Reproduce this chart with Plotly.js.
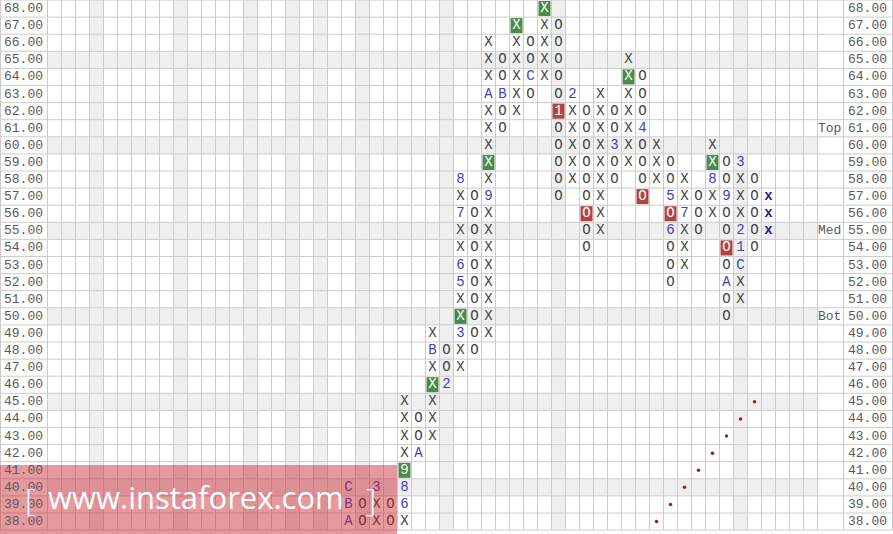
<!DOCTYPE html>
<html><head><meta charset="utf-8">
<script src="https://cdn.plot.ly/plotly-3.0.1.min.js"></script>
<style>html,body{margin:0;padding:0;background:#fff;}#chart{width:893px;height:534px;}</style>
</head><body><div id="chart"></div>
<script>
// ---- data ----
const prices = [38,39,40,41,42,43,44,45,46,47,48,49,50,51,52,53,54,55,56,57,58,59,60,61,62,63,64,65,66,67,68];
const priceLabels = ['38.00','39.00','40.00','41.00','42.00','43.00','44.00','45.00','46.00','47.00','48.00','49.00','50.00','51.00','52.00','53.00','54.00','55.00','56.00','57.00','58.00','59.00','60.00','61.00','62.00','63.00','64.00','65.00','66.00','67.00','68.00'];
// P&F columns
const colIndex = [21,22,23,24,25,26,27,28,29,30,31,32,33,34,35,36,37,38,39,40,41,42,43,44,45,46,47,48,49,50,51];
const colType  = ['X','O','X','O','X','O','X','O','X','O','X','O','X','O','X','O','X','O','X','O','X','O','X','O','X','O','X','O','X','O','x'];
const colLow   = [38,38,38,38,38,42,43,46,47,48,49,61,62,63,64,57,58,54,55,58,59,57,58,52,53,55,56,50,51,54,55];
const colHigh  = [40,39,40,39,45,44,49,48,58,57,66,65,67,66,68,67,63,62,63,62,65,64,60,59,58,57,60,59,59,58,57];
// month markers
const markCol   = [21,21,21,23,25,25,25,26,27,28,29,29,29,29,29,31,31,32,34,36,37,40,42,44,44,45,47,48,48,49,49,49,49];
const markPrice = [38,39,40,40,39,40,41,42,48,46,49,52,53,56,58,57,63,63,64,62,63,60,61,57,55,56,58,57,52,53,54,55,59];
const markLabel = ['A','B','C','3','6','8','9','A','B','2','3','5','6','7','8','9','A','B','C','1','2','3','4','5','6','7','8','9','A','C','1','2','3'];
// signal boxes
const buyCol   = [25,27,29,31,33,35,41,47];
const buyPrice = [41,46,50,59,67,68,64,59];
const sellCol   = [36,38,42,44,48];
const sellPrice = [62,56,57,56,54];
// trend line dots
const trendCol   = [43,44,45,46,47,48,49,50];
const trendPrice = [38,39,40,41,42,43,44,45];
// levels
const levelName  = ['Top','Med','Bot'];
const levelPrice = [61,55,50];
// shaded columns / rows
const grayCols = [3,9,14,17,19,22,28,36,49];
const grayRows = [40,45,50,55,60,65];

// ---- geometry helpers (px -> axis units) ----
const W = 893, H = 534, CW = 14, RH = 17.1, GX = 47.5;
const xu = px => (px - GX) / CW - 0.5;
const yu = py => 68.5 - py / RH;
const NCOL = 55;

// build cells
const isKey = (c,p,cs,ps) => cs.some((cc,i)=>cc===c && ps[i]===p);
const plain = {x:[],y:[],t:[]}, month = {x:[],y:[],t:[]}, sig = {x:[],y:[],t:[]}, bold = {x:[],y:[],t:[]};
colIndex.forEach((c,i)=>{
  for (let p = colLow[i]; p <= colHigh[i]; p++) {
    let t = colType[i];
    const mi = markCol.findIndex((mc,k)=>mc===c && markPrice[k]===p);
    if (mi >= 0) t = markLabel[mi];
    if (isKey(c,p,buyCol,buyPrice) || isKey(c,p,sellCol,sellPrice)) { sig.x.push(c); sig.y.push(p); sig.t.push(t); }
    else if (mi >= 0) { month.x.push(c); month.y.push(p); month.t.push(t); }
    else if (t === 'x') { bold.x.push(c); bold.y.push(p); bold.t.push(t); }
    else { plain.x.push(c); plain.y.push(p); plain.t.push(t); }
  }
});

const FONT = "'Courier New', 'Liberation Mono', monospace";
const shapes = [];
const yBot = 37.5, yTop = 68.5;
grayCols.forEach(c => shapes.push({type:'rect', xref:'x', yref:'y', x0:c-0.5, x1:c+0.5, y0:yBot, y1:yTop, fillcolor:'#efefef', line:{width:0}, layer:'below'}));
grayRows.forEach(r => shapes.push({type:'rect', xref:'x', yref:'y', x0:-0.5, x1:NCOL-0.5, y0:r-0.5, y1:r+0.5, fillcolor:'#efefef', line:{width:0}, layer:'below'}));
const ins = 1/CW, insy = 1/RH;
buyCol.forEach((c,i)=>shapes.push({type:'rect', xref:'x', yref:'y', x0:c-0.5+ins, x1:c+0.5-ins, y0:buyPrice[i]-0.5+insy, y1:buyPrice[i]+0.5-insy, fillcolor:'#4a8a4a', line:{width:0}, layer:'below'}));
sellCol.forEach((c,i)=>shapes.push({type:'rect', xref:'x', yref:'y', x0:c-0.5+ins, x1:c+0.5-ins, y0:sellPrice[i]-0.5+insy, y1:sellPrice[i]+0.5-insy, fillcolor:'#b04444', line:{width:0}, layer:'below'}));
// grid lines
const gl = {color:'#cccccc', width:1};
const vlines = [xu(0.5)];
for (let k = 0; k <= NCOL; k++) vlines.push(k - 0.5);
vlines.push(xu(843.5), xu(892.5));
vlines.forEach(v => shapes.push({type:'line', xref:'x', yref:'y', x0:v, x1:v, y0:yBot, y1:yTop, line:gl, layer:'below'}));
for (let r = 0; r <= 31; r++) shapes.push({type:'line', xref:'x', yref:'y', x0:xu(0), x1:xu(W), y0:yBot+r, y1:yBot+r, line:gl, layer:'below'});
// watermark band
shapes.push({type:'rect', xref:'x', yref:'y', x0:xu(0), x1:xu(397), y0:yu(H), y1:yu(465), fillcolor:'rgba(200,30,40,0.45)', line:{width:0}, layer:'above'});

const annotations = [];
prices.forEach((p,i)=>{
  annotations.push({x:xu(3), y:p, xref:'x', yref:'y', text:priceLabels[i], showarrow:false, xanchor:'left', yanchor:'middle', font:{family:FONT, size:13, color:'#5a5a5a'}, borderpad:0});
  annotations.push({x:xu(847), y:p, xref:'x', yref:'y', text:priceLabels[i], showarrow:false, xanchor:'left', yanchor:'middle', font:{family:FONT, size:13, color:'#5a5a5a'}, borderpad:0});
});
levelName.forEach((n,i)=>annotations.push({x:xu(842), y:levelPrice[i], xref:'x', yref:'y', text:n, showarrow:false, xanchor:'right', yanchor:'middle', font:{family:FONT, size:13, color:'#5a5a5a'}, borderpad:0}));
annotations.push({x:xu(196), y:yu(497), xref:'x', yref:'y', text:'www.instaforex.com', showarrow:false, xanchor:'center', yanchor:'middle', font:{family:'Open Sans', size:31, color:'#ffffff'}});
annotations.push({x:xu(30), y:yu(498), xref:'x', yref:'y', text:'[', showarrow:false, xanchor:'center', yanchor:'middle', font:{family:'Open Sans', size:32, color:'#ffffff', weight:300}});
annotations.push({x:xu(371), y:yu(498), xref:'x', yref:'y', text:']', showarrow:false, xanchor:'center', yanchor:'middle', font:{family:'Open Sans', size:32, color:'#ffffff', weight:300}});

const txt = (d, color, weight) => ({type:'scatter', mode:'text', x:d.x, y:d.y, text:d.t, textposition:'middle center', textfont:{family:FONT, size:14, color:color, weight:weight||'normal'}, hoverinfo:'skip', cliponaxis:false, showlegend:false});
const data = [
  txt(plain, '#444444'),
  txt(month, '#4040c0'),
  txt(sig, '#ffffff'),
  txt(bold, '#1f1f90', 'bold'),
  {type:'scatter', mode:'markers', x:trendCol, y:trendPrice, marker:{size:3.5, color:'#aa1a1a'}, hoverinfo:'skip', showlegend:false}
];
const layout = {
  width:W, height:H, margin:{l:0,r:0,t:0,b:0}, paper_bgcolor:'#ffffff', plot_bgcolor:'#ffffff',
  xaxis:{range:[xu(0), xu(W)], visible:false, fixedrange:true},
  yaxis:{range:[yu(H), yu(0)], visible:false, fixedrange:true},
  shapes:shapes, annotations:annotations, showlegend:false
};
Plotly.newPlot('chart', data, layout, {staticPlot:true, displayModeBar:false});
</script></body></html>
